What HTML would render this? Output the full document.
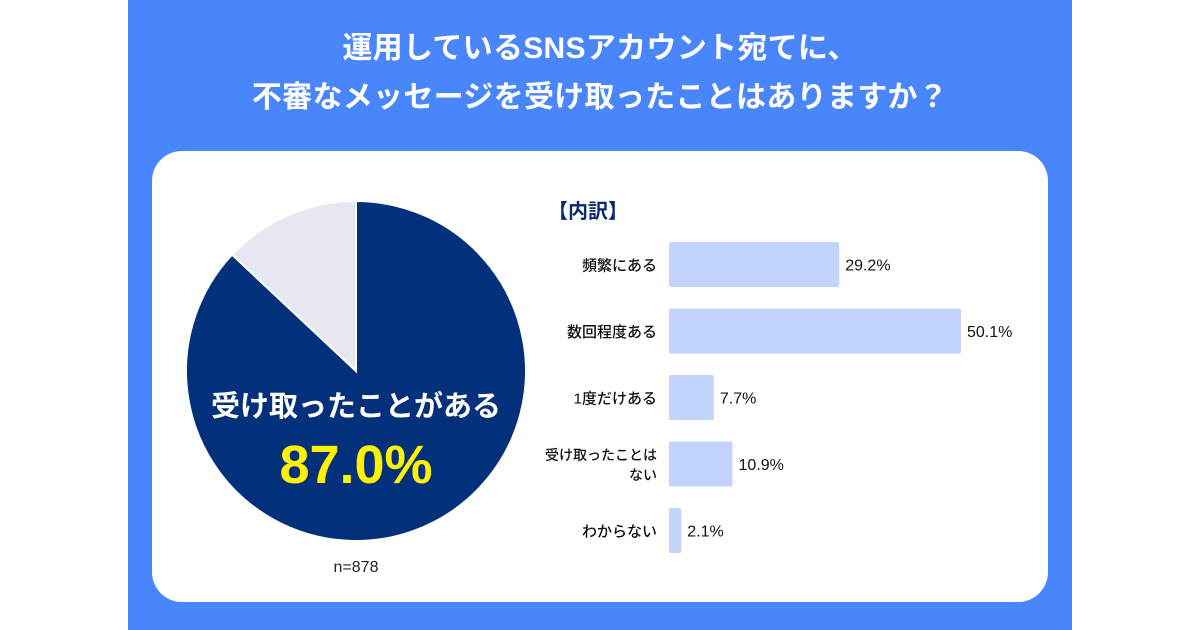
<!DOCTYPE html>
<html><head><meta charset="utf-8"><style>
body{margin:0;width:1200px;height:630px;background:#fff;position:relative;overflow:hidden;font-family:"Liberation Sans","Noto Sans CJK JP",sans-serif}
#panel{position:absolute;left:128px;top:0;width:944px;height:630px;background:#4a86fb}
#title{position:absolute;left:128px;width:944px;top:24px;text-align:center;color:#fff;font-weight:bold;font-size:30px;line-height:49px;letter-spacing:0.3px}
#card{position:absolute;left:152px;top:151px;width:896px;height:451px;background:#fff;border-radius:30px}
svg{position:absolute;left:0;top:0}
</style></head><body>
<div id="panel"></div>
<div id="title">運用しているSNSアカウント宛てに、<br>不審なメッセージを受け取ったことはありますか？</div>
<div id="card"></div>
<svg width="1200" height="630" id="chart"></svg>
<script>
const pieLabels=["受け取ったことがある","受け取ったことはない"];
const pieValues=[87.0,13.0];
const barCategories=[["頻繁にある"],["数回程度ある"],["1度だけある"],["受け取ったことは","ない"],["わからない"]];
const barValues=[29.2,50.1,7.7,10.9,2.1];

const NS="http://www.w3.org/2000/svg";
const svg=document.getElementById('chart');
function mk(t,a){const e=document.createElementNS(NS,t);for(const k in a)e.setAttribute(k,a[k]);svg.appendChild(e);return e;}
const cx=356,cy=371,r=170;
const total=pieValues.reduce((a,b)=>a+b,0);
const pieColors=["#03307a","#e5e8f1"];
let ang=0;
pieValues.forEach((v,i)=>{
  const a0=ang,a1=ang+v/total*2*Math.PI;ang=a1;
  const x0=cx+r*Math.sin(a0),y0=cy-r*Math.cos(a0),x1=cx+r*Math.sin(a1),y1=cy-r*Math.cos(a1);
  const p=mk('path',{d:`M${cx},${cy}L${x0},${y0}A${r},${r} 0 ${a1-a0>Math.PI?1:0} 1 ${x1},${y1}Z`,fill:pieColors[i],stroke:'#fff','stroke-width':2});
  
  
});
let t=mk('text',{x:cx,y:416,'text-anchor':'middle','font-size':29,'font-weight':'bold',fill:'#fff'});t.textContent=pieLabels[0];


t=mk('text',{x:cx,y:483,'text-anchor':'middle','font-size':54,'font-weight':'bold',fill:'#fff200'});t.textContent=pieValues[0].toFixed(1)+'%';


t=mk('text',{x:cx,y:572,'text-anchor':'middle','font-size':16,fill:'#222'});t.textContent='n=878';


t=mk('text',{x:548,y:218,'font-size':20,'font-weight':'bold',fill:'#0a2a6e'});t.textContent='【内訳】';


const x0=669,scale=292/50.1,top0=242,step=66.5,bh=45;
barValues.forEach((v,i)=>{
  const y=top0+i*step,w=v*scale;
  const b=mk('rect',{x:x0,y:y,width:w,height:bh,rx:2,fill:'#c2d3fc'});
  
  
  const vt=mk('text',{x:x0+w+6,y:y+bh/2+6,'font-size':16,'font-weight':500,fill:'#111'});vt.textContent=v.toFixed(1)+'%';
  
  
  const lines=barCategories[i];
  lines.forEach((s,j)=>{
    const ly=y+bh/2+6+(j-(lines.length-1)/2)*20;
    const lt=mk('text',{x:657,y:ly,'text-anchor':'end','font-size':lines.length>1?14:15,'font-weight':500,fill:'#111'});lt.textContent=s;
    
    
  });
});
</script>
</body></html>
